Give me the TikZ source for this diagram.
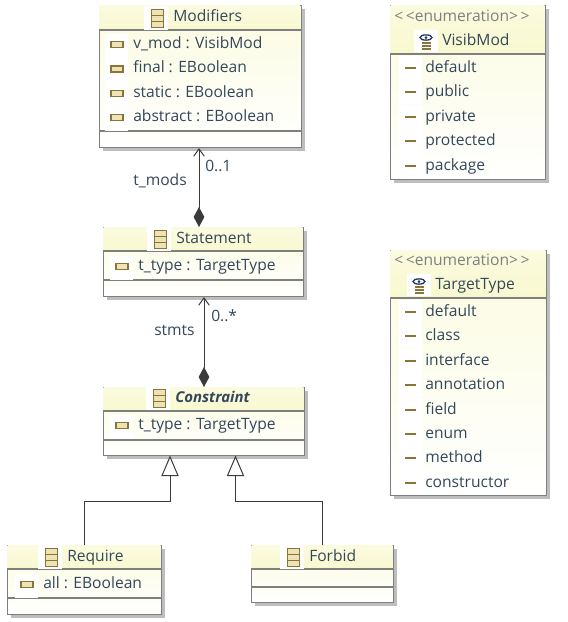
\documentclass[tikz,border=0pt]{standalone}
\usepackage{fontspec}
\setmainfont{Open Sans}
\usepackage{xcolor}
\definecolor{umlText}{HTML}{33475B}
\definecolor{umlLine}{HTML}{7F7F7F}
\definecolor{umlWire}{HTML}{3A3A3A}
\definecolor{umlHead}{HTML}{F8F8CF}
\definecolor{umlBody}{HTML}{FBFBE0}
\definecolor{umlTan}{HTML}{8A7437}
\definecolor{umlTanFill}{HTML}{EDE3B4}
\definecolor{umlEye}{HTML}{23345F}
\usepackage{tikz}
\usetikzlibrary{arrows.meta,shadows}
\tikzset{
  classbox/.style={draw=umlLine, line width=0.8pt, anchor=north west, inner sep=0pt,
    top color=umlBody, bottom color=white,
    drop shadow={shadow xshift=2.6pt, shadow yshift=-2.6pt, fill=black!32, opacity=0.8}},
  txt/.style={anchor=base west, inner sep=0pt, text=umlText, font=\fontsize{11.7}{13}\selectfont},
  lbl/.style={txt},
  stereo/.style={anchor=base, inner sep=0pt, text=umlLine, font=\fontsize{11.7}{13}\selectfont},
  rule/.style={draw=umlLine, line width=0.8pt},
  wire/.style={draw=umlWire, line width=0.75pt},
  compo/.style={wire, {Diamond[length=15pt, width=8pt, fill=umlWire]}-{Straight Barb[length=5.5pt, width=8pt]}},
  gener/.style={wire, -{Triangle[open, length=15.5pt, width=13pt, fill=white]}},
}
% box with a header band
\newcommand{\umlbox}[6]{%
  \node[classbox, minimum width=#4*0.75pt, minimum height=#5*0.75pt] (#1) at (#2,#3) {};
  \fill[top color=umlBody, bottom color=umlHead] (#2+0.5,#3+0.5) rectangle (#2+#4-0.5,#6);
  \draw[rule] (#2,#6) -- (#2+#4,#6);
}
\newcommand{\classicon}[2]{%
  \fill[white] (#1-7,#2-12.5) rectangle (#1+17,#2+12);
  \draw[umlTan, fill=umlTanFill, line width=0.7pt] (#1,#2-9) rectangle (#1+12,#2+9);
  \draw[umlTan, line width=0.7pt] (#1,#2-3) -- (#1+12,#2-3) (#1,#2+3) -- (#1+12,#2+3);
}
\newcommand{\enumicon}[2]{%
  \fill[white] (#1-8,#2-9) rectangle (#1+16,#2+13);
  \draw[umlEye, line width=1pt] (#1+4,#2-1.5) ellipse (6 and 2.6);
  \fill[umlEye] (#1+4,#2-1.5) circle (1.5);
  \draw[umlTan, line width=0.9pt] (#1,#2+4) -- (#1+9,#2+4) (#1,#2+7) -- (#1+9,#2+7) (#1,#2+10) -- (#1+9,#2+10);
}
\newcommand{\attricon}[2]{%
  \fill[white] (#1-6,#2-11) rectangle (#1+17,#2+13);
  \draw[umlTan, fill=umlTanFill, line width=0.9pt] (#1,#2-3) rectangle (#1+12,#2+3);
}
\newcommand{\liticon}[2]{%
  \fill[white] (#1-6,#2-12) rectangle (#1+17,#2+12);
  \draw[umlTan, line width=1.6pt] (#1,#2) -- (#1+11,#2);
}
\begin{document}
\begin{tikzpicture}[x=0.75pt, y=-0.75pt]
  \useasboundingbox (0,0) rectangle (568,622);
  % classes
  \umlbox{modifiers}{98.5}{5}{202}{142}{30}
  \draw[rule] (98.5,131) -- (300.5,131);
  \classicon{151}{18}
  \node[txt] (modifiersName) at (173,21) {Modifiers};
  \foreach \attr [count=\i, evaluate=\i as \ya using 44.5+24.4*(\i-1)] in {v\_mod : VisibMod, final : EBoolean, static : EBoolean, abstract : EBoolean} {
    \attricon{111}{\ya}
    \node[txt] (modifiersAttr\i) at (133,\ya+4) {\attr};
  }

  \umlbox{statement}{103}{227}{200}{69}{251}
  \draw[rule] (103,280) -- (303,280);
  \classicon{154}{239}
  \node[txt] (statementName) at (176,243) {Statement};
  \attricon{116}{266.5}
  \node[txt] (statementAttr) at (138,270.5) {t\_type : TargetType};

  \umlbox{constraint}{103}{387}{201}{68}{411}
  \draw[rule] (103,440) -- (304,440);
  \classicon{153}{398}
  \node[txt, font=\fontsize{11.2}{13}\selectfont\itshape\bfseries] (constraintName) at (175,402) {Constraint};
  \attricon{116}{425.5}
  \node[txt] (constraintAttr) at (138,429.5) {t\_type : TargetType};

  \umlbox{require}{7}{545}{154}{69}{569}
  \draw[rule] (7,598) -- (161,598);
  \classicon{45}{557}
  \node[txt] (requireName) at (67,561) {Require};
  \attricon{21}{584.5}
  \node[txt] (requireAttr) at (43,588.5) {all : EBoolean};

  \umlbox{forbid}{251}{545}{142}{57}{569}
  \draw[rule] (251,587) -- (393,587);
  \classicon{287}{557}
  \node[txt] (forbidName) at (309,561) {Forbid};

  % enumerations
  \umlbox{visibMod}{390}{5}{155}{174}{54}
  \node[stereo] (visibModStereo) at (462,21) {<\,<enumeration>\,>};
  \enumicon{422}{39}
  \node[txt] (visibModName) at (442,45) {VisibMod};
  \foreach \lit [count=\i, evaluate=\i as \ya using 68+24.4*(\i-1)] in {default, public, private, protected, package} {
    \liticon{405}{\ya}
    \node[txt] (visibModLit\i) at (425,\ya+4.5) {\lit};
  }

  \umlbox{targetType}{390}{250}{156}{245}{298}
  \node[stereo] (targetTypeStereo) at (462,265) {<\,<enumeration>\,>};
  \enumicon{415}{283}
  \node[txt] (targetTypeName) at (435,289) {TargetType};
  \foreach \lit [count=\i, evaluate=\i as \ya using 312+24.4*(\i-1)] in {default, class, interface, annotation, field, enum, method, constructor} {
    \liticon{405}{\ya}
    \node[txt] (targetTypeLit\i) at (425,\ya+4.5) {\lit};
  }

  % connectors
  \coordinate (statementTop) at (199,227);
  \draw[compo] (statementTop) -- (statementTop |- modifiers.south);
  \node[lbl] (tModsLabel) at (133,185.5) {t\_mods};
  \node[lbl] (tModsMult) at (205,171.5) {0..1};
  \coordinate (constraintTop) at (204,387);
  \draw[compo] (constraintTop) -- (constraintTop |- statement.south);
  \node[lbl] (stmtsLabel) at (154,335.5) {stmts};
  \node[lbl] (stmtsMult) at (211,321.5) {0..*};
  \coordinate (genLeft) at (170,455.5);
  \coordinate (genRight) at (235.5,455.5);
  \draw[gener] (require.north) -- ++(0,-43.5) -| (genLeft);
  \draw[gener] (forbid.north) -- ++(0,-43.5) -| (genRight);
\end{tikzpicture}
\end{document}
